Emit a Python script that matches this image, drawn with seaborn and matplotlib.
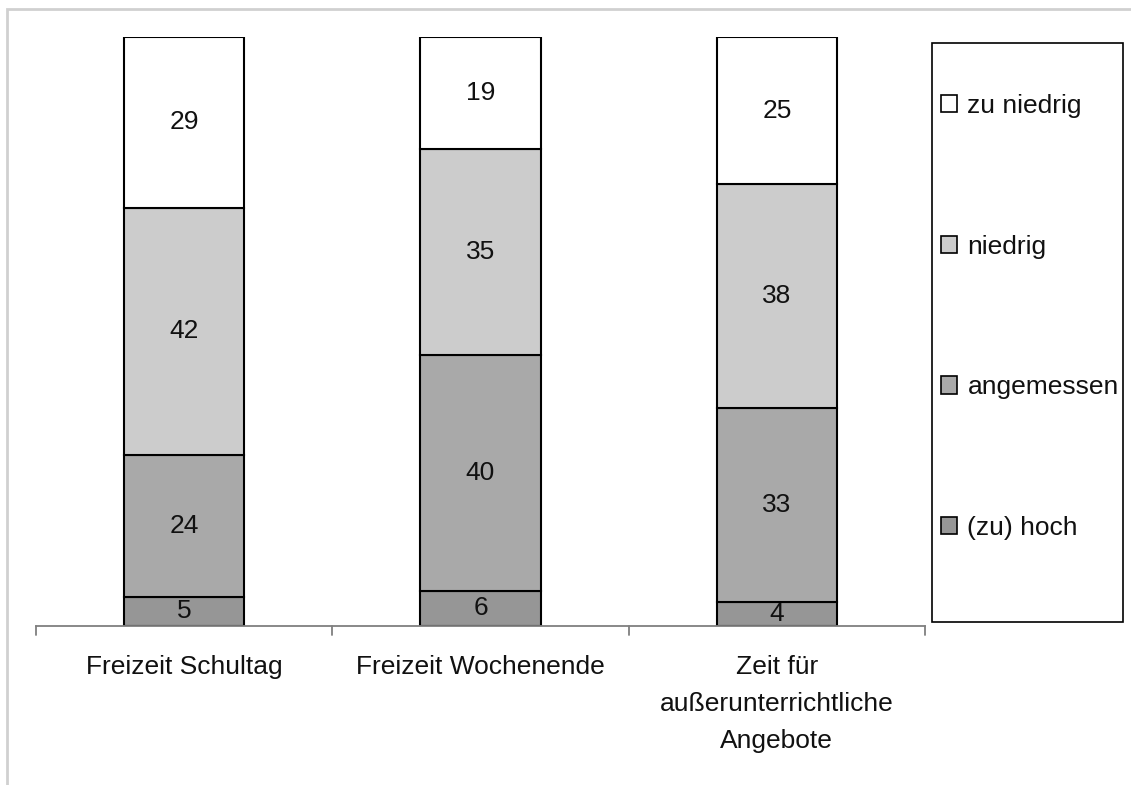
import matplotlib
matplotlib.use("Agg")
import matplotlib.pyplot as plt
import seaborn as sns
import numpy as np
from matplotlib.patches import Patch, Rectangle

categories = ["Freizeit Schultag", "Freizeit Wochenende",
              "Zeit für\naußerunterrichtliche\nAngebote"]
series_names = ["(zu) hoch", "angemessen", "niedrig", "zu niedrig"]
zu_hoch = [5, 6, 4]
angemessen = [24, 40, 33]
niedrig = [42, 35, 38]
zu_niedrig = [29, 19, 25]
series_values = [zu_hoch, angemessen, niedrig, zu_niedrig]
colors = ["#969696", "#a9a9a9", "#cccccc", "#ffffff"]

sns.set_theme(style="white")
plt.rcParams["font.family"] = ["Liberation Sans", "DejaVu Sans"]
FS = 19

fig = plt.figure(figsize=(11.31, 7.85), dpi=100)
W, H = 1131, 785
ax = fig.add_axes([36 / W, (H - 626) / H, 889 / W, 589 / H])

bottom = np.zeros(len(categories))
for name, vals, col in zip(series_names, series_values, colors):
    sns.barplot(x=categories, y=vals, bottom=bottom, color=col,
                edgecolor="black", linewidth=1.5, width=0.405,
                saturation=1, ax=ax, zorder=2)
    bottom = bottom + np.array(vals)

for cont in ax.containers:
    ax.bar_label(cont, label_type="center", fontsize=FS, color="#111111")

ax.set_xlim(-0.5, 2.5)
ax.set_ylim(0, 100)
ax.set_yticks([])
ax.set_ylabel("")
for s in ["top", "right", "left"]:
    ax.spines[s].set_visible(False)
ax.spines["bottom"].set_color("#7f7f7f")
ax.spines["bottom"].set_linewidth(1.3)

ax.set_xticks([0, 1, 2])
ax.set_xticklabels(categories, fontsize=FS, linespacing=1.67)
ax.tick_params(axis="x", length=0, pad=21, colors="#111111")
for xb in [-0.5, 0.5, 1.5, 2.5]:
    ax.plot([xb, xb], [0, -1.6], color="#7f7f7f", lw=1.3, clip_on=False)

# legend frame
fig.patches.append(Rectangle((932 / W, (H - 622) / H), 191 / W, 579 / H,
                             transform=fig.transFigure, facecolor="none",
                             edgecolor="black", lw=1.2))
handles = [Patch(facecolor=c, edgecolor="black", lw=1.2) for c in colors]
leg = fig.legend(handles[::-1], series_names[::-1], loc="upper left",
                 bbox_to_anchor=(941 / W, (H - 94) / H), frameon=False,
                 fontsize=FS, handlelength=0.62, handleheight=0.62,
                 handletextpad=0.38, labelspacing=4.42, borderpad=0,
                 borderaxespad=0)
for t in leg.get_texts():
    t.set_color("#111111")

# outer grey frame
fig.patches.append(Rectangle((7 / W, -0.1), 1.2, (H - 9) / H + 0.1,
                             transform=fig.transFigure, facecolor="none",
                             edgecolor="#d0d0d0", lw=2))

fig.savefig("out.png", dpi=100)
